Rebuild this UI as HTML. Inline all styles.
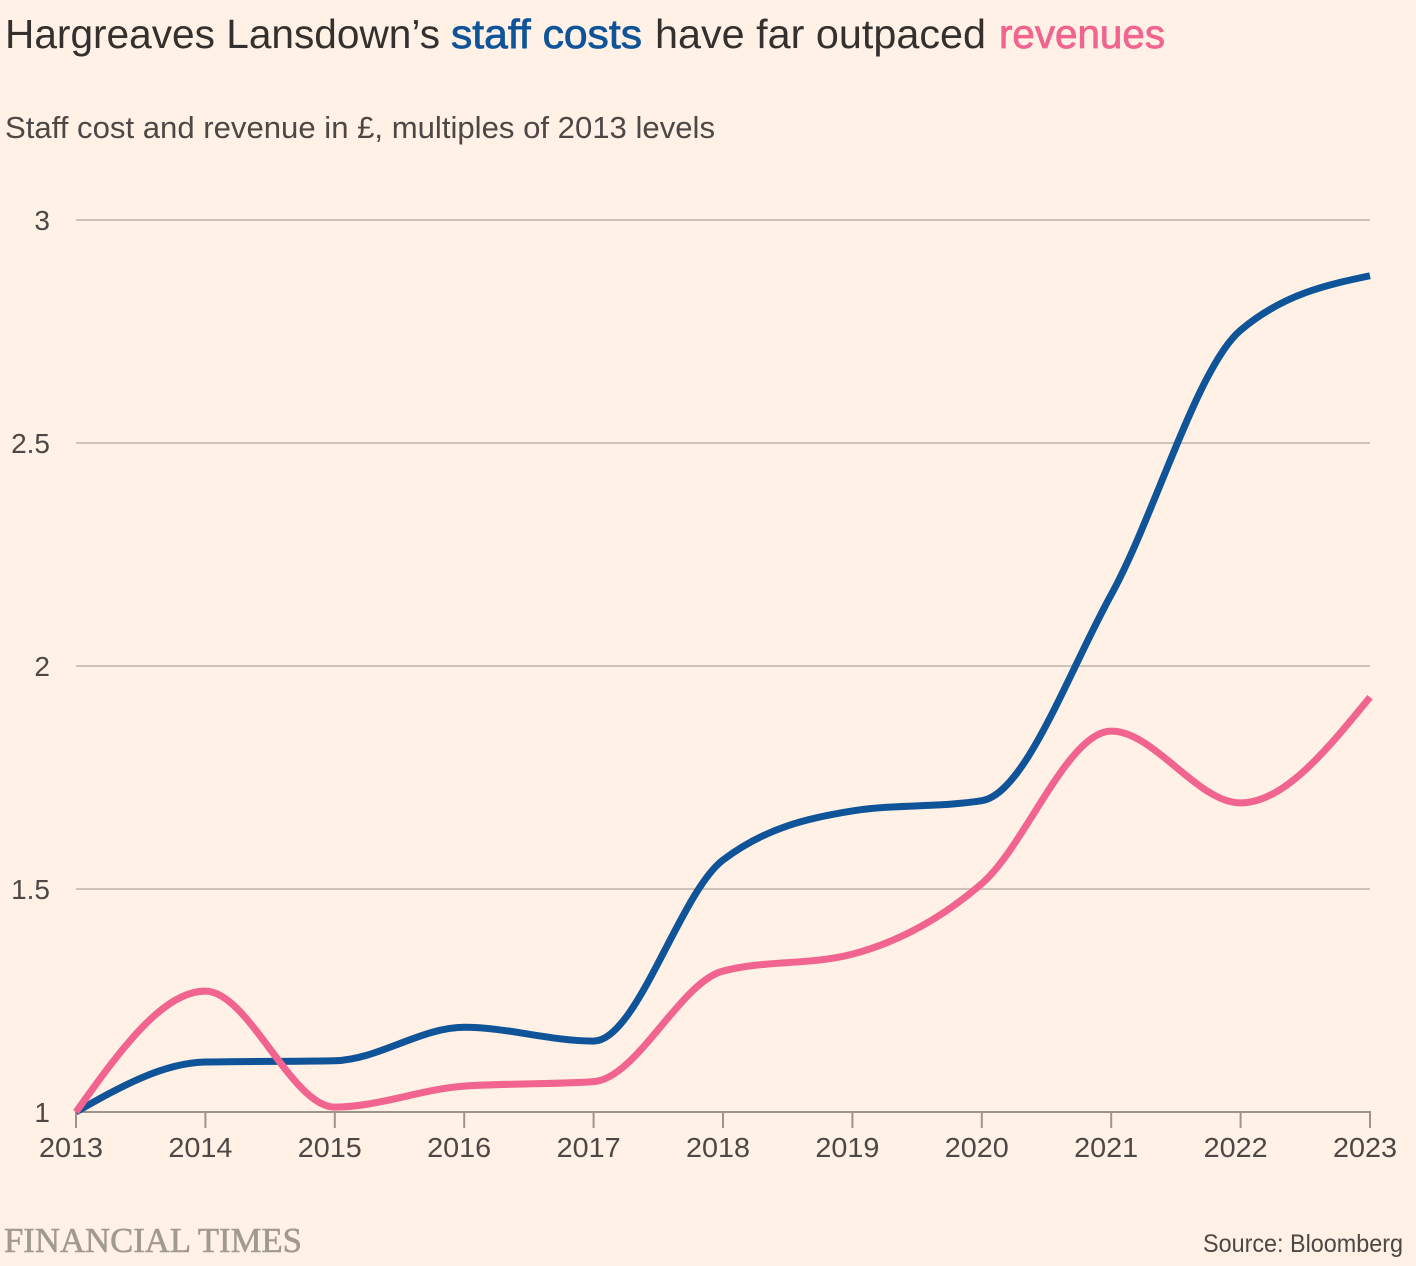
<!DOCTYPE html>
<html lang="en">
<head>
<meta charset="utf-8">
<title>Hargreaves Lansdown staff costs and revenues</title>
<style>
  html, body { margin: 0; padding: 0; background: #fff1e5; }
  body { width: 1416px; height: 1266px; overflow: hidden; }
  svg { display: block; }
  text { font-family: "Liberation Sans", sans-serif; }
</style>
</head>
<body>
<svg id="chart" xmlns="http://www.w3.org/2000/svg" width="1416" height="1266" viewBox="0 0 1416 1266">
  <rect x="0" y="0" width="1416" height="1266" fill="#fff1e5"/>
  <g font-size="41">
    <text x="5" y="48" fill="#33302e" textLength="435" lengthAdjust="spacingAndGlyphs">Hargreaves Lansdown’s</text>
    <text x="451" y="48" fill="#0f5499" stroke="#0f5499" stroke-width="0.8" textLength="191" lengthAdjust="spacingAndGlyphs">staff costs</text>
    <text x="655" y="48" fill="#33302e" textLength="331" lengthAdjust="spacingAndGlyphs">have far outpaced</text>
    <text x="999" y="48" fill="#f0648f" stroke="#f0648f" stroke-width="0.8" textLength="166" lengthAdjust="spacingAndGlyphs">revenues</text>
  </g>
  <text x="5" y="138" font-size="31" fill="#4d4845" textLength="710" lengthAdjust="spacingAndGlyphs">Staff cost and revenue in £, multiples of 2013 levels</text>
  <g id="grid"></g>
  <g id="y-labels"></g>
  <g id="x-axis"></g>
  <g id="series"></g>
  <text x="4" y="1252" font-size="35" fill="#a19a8f" stroke="#a19a8f" stroke-width="0.6" textLength="298" lengthAdjust="spacingAndGlyphs" style="font-family:'Liberation Serif',serif">FINANCIAL TIMES</text>
  <text x="1203" y="1252" font-size="25" fill="#4d4845" textLength="200" lengthAdjust="spacingAndGlyphs">Source: Bloomberg</text>
</svg>
<script>
const years = [2013, 2014, 2015, 2016, 2017, 2018, 2019, 2020, 2021, 2022, 2023];
const staffCosts = [1, 1.112, 1.115, 1.19, 1.159, 1.565, 1.675, 1.698, 2.16, 2.753, 2.875];
const revenues = [1, 1.271, 1.011, 1.058, 1.068, 1.316, 1.354, 1.512, 1.854, 1.693, 1.93];
const yTicks = [1, 1.5, 2, 2.5, 3];
const yTickLabels = ['1', '1.5', '2', '2.5', '3'];

const plotLeft = 76, plotRight = 1370, plotTop = 220, plotBottom = 1112;
const SVG_NS = 'http://www.w3.org/2000/svg';

function xScale(year) {
  return plotLeft + (year - years[0]) / (years[years.length - 1] - years[0]) * (plotRight - plotLeft);
}
function yScale(value) {
  return plotBottom - (value - 1) / (3 - 1) * (plotBottom - plotTop);
}
function make(tag, attrs, parent, text) {
  const el = document.createElementNS(SVG_NS, tag);
  for (const k in attrs) el.setAttribute(k, attrs[k]);
  if (text !== undefined) el.textContent = text;
  parent.appendChild(el);
  return el;
}
function sign(v) { return v < 0 ? -1 : 1; }
// Monotone cubic interpolation (monotone in x), built from the data points
function monotonePath(pts) {
  const n = pts.length;
  const d = [], m = [];
  for (let i = 0; i < n - 1; i++) {
    d.push((pts[i + 1][1] - pts[i][1]) / (pts[i + 1][0] - pts[i][0]));
  }
  for (let i = 1; i < n - 1; i++) {
    const h0 = pts[i][0] - pts[i - 1][0], h1 = pts[i + 1][0] - pts[i][0];
    const p = (d[i - 1] * h1 + d[i] * h0) / (h0 + h1);
    m[i] = (sign(d[i - 1]) + sign(d[i])) * Math.min(Math.abs(d[i - 1]), Math.abs(d[i]), 0.5 * Math.abs(p)) || 0;
  }
  m[0] = (3 * d[0] - m[1]) / 2;
  m[n - 1] = (3 * d[n - 2] - m[n - 2]) / 2;
  let path = 'M' + pts[0][0] + ',' + pts[0][1];
  for (let i = 0; i < n - 1; i++) {
    const dx = (pts[i + 1][0] - pts[i][0]) / 3;
    path += 'C' + (pts[i][0] + dx) + ',' + (pts[i][1] + m[i] * dx) + ' ' +
      (pts[i + 1][0] - dx) + ',' + (pts[i + 1][1] - m[i + 1] * dx) + ' ' +
      pts[i + 1][0] + ',' + pts[i + 1][1];
  }
  return path;
}

const grid = document.getElementById('grid');
const yLabels = document.getElementById('y-labels');
const xAxis = document.getElementById('x-axis');
const series = document.getElementById('series');

yTicks.forEach(function (tick, i) {
  if (tick !== 1) {
    const line = make('line', { x1: plotLeft, x2: plotRight, y1: yScale(tick), y2: yScale(tick), stroke: '#cdc2b7', 'stroke-width': 2 }, grid);
    
    
  }
  const label = make('text', { x: 50, y: yScale(tick) + 10, 'text-anchor': 'end', 'font-size': 28, fill: '#4d4845' }, yLabels, yTickLabels[i]);
  
  
});

const baseline = make('line', { x1: plotLeft - 1, x2: plotRight + 1, y1: plotBottom, y2: plotBottom, stroke: '#9e958a', 'stroke-width': 2 }, xAxis);



years.forEach(function (year) {
  const tickMark = make('line', { x1: xScale(year), x2: xScale(year), y1: plotBottom, y2: plotBottom + 16, stroke: '#9e958a', 'stroke-width': 2 }, xAxis);
  
  
  const label = make('text', { x: xScale(year) - 37, y: 1157, 'font-size': 28, fill: '#4d4845', textLength: 64, lengthAdjust: 'spacingAndGlyphs' }, xAxis, String(year));
  
  
});

function seriesPoints(values) {
  return values.map(function (v, i) { return [xScale(years[i]), yScale(v)]; });
}

const staffLine = make('path', { d: monotonePath(seriesPoints(staffCosts)), fill: 'none', stroke: '#0f5499', 'stroke-width': 7, 'stroke-linejoin': 'round' }, series);



const revenueLine = make('path', { d: monotonePath(seriesPoints(revenues)), fill: 'none', stroke: '#f0648f', 'stroke-width': 7, 'stroke-linejoin': 'round' }, series);


</script>
</body>
</html>
